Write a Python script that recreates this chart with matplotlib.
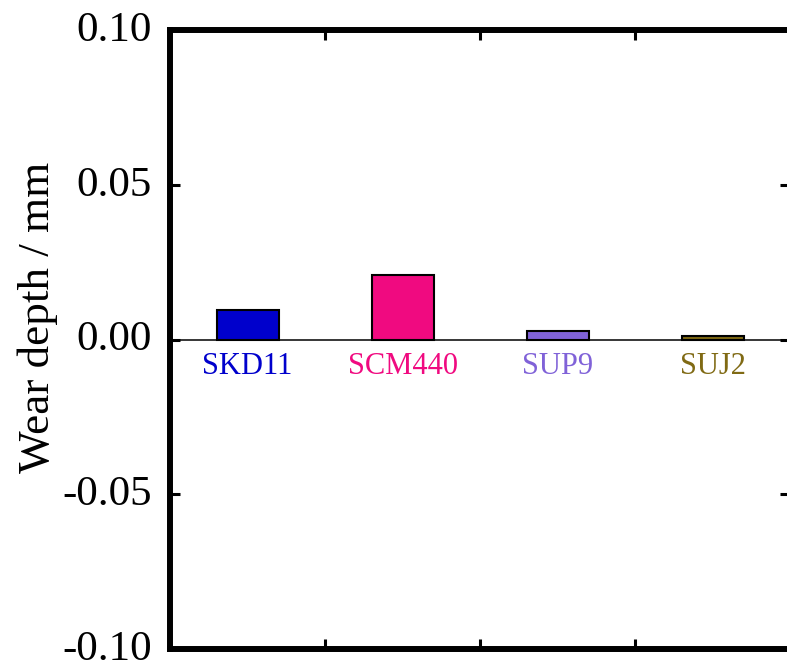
import matplotlib
matplotlib.use('Agg')
import matplotlib.pyplot as plt
from matplotlib.transforms import ScaledTranslation

categories = ['SKD11', 'SCM440', 'SUP9', 'SUJ2']
wear_depth = [0.0094, 0.0210, 0.0028, 0.0011]
bar_colors = ['#0000CC', '#F00A80', '#8062D8', '#806A14']
y_ticks = [-0.10, -0.05, 0.00, 0.05, 0.10]

plt.rcParams['font.family'] = ['Liberation Serif', 'DejaVu Serif']

fig = plt.figure(figsize=(7.87, 6.64), dpi=100)
ax = fig.add_axes([0.216, 0.0226, 0.788, 0.9322])

x = [i + 0.5 for i in range(len(categories))]
ax.bar(x, wear_depth, width=0.4, color=bar_colors, edgecolor='black', linewidth=1.5, zorder=2)
ax.axhline(0, color='black', linewidth=1.1, zorder=3)

for xi, name, c in zip(x, categories, bar_colors):
    ax.text(xi, -0.011, name, color=c, fontsize=22, ha='center', va='baseline')

ax.set_xlim(0, 4)
ax.set_ylim(-0.1, 0.1)
ax.set_xticks([1, 2, 3])
ax.set_xticklabels([])
ax.set_yticks(y_ticks)
ax.set_yticklabels([f"{v:.2f}" for v in y_ticks], fontsize=31)

ax.tick_params(axis='x', direction='in', length=7, width=2.2, top=True, bottom=True)
ax.tick_params(axis='y', direction='in', length=7, width=2.2, left=True, right=True, pad=13)
for s in ax.spines.values():
    s.set_linewidth(4.3)
ax.spines['right'].set_visible(False)

# tick labels sit a little above their ticks in the original
shift = ScaledTranslation(0, 0.04, fig.dpi_scale_trans)
for lbl in ax.get_yticklabels():
    lbl.set_transform(lbl.get_transform() + shift)

ax.set_ylabel('Wear depth / mm', fontsize=32.5)
ax.yaxis.set_label_coords(-0.18, 0.536)

fig.savefig('out.png', dpi=100)
